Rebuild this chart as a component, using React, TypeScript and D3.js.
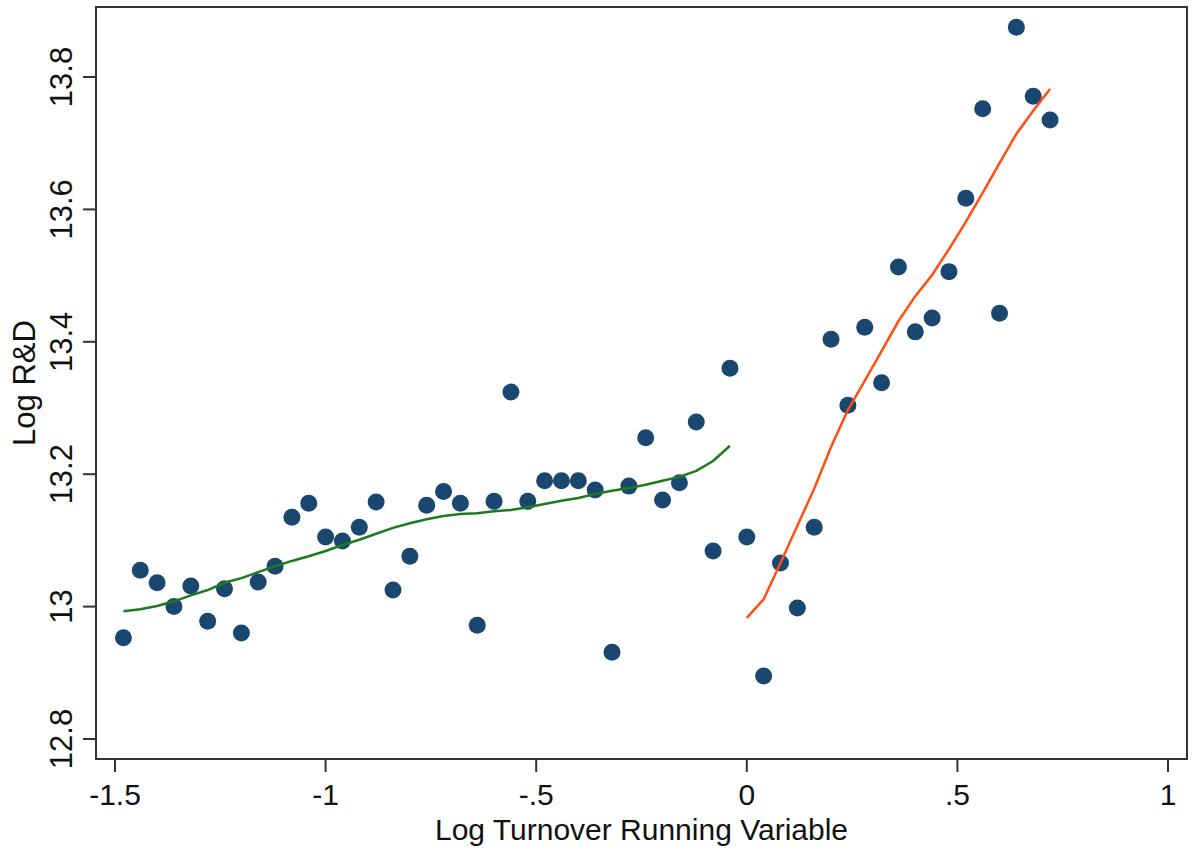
import React from 'react';
import * as d3 from 'd3';

// binned scatter (bin centres every .04)
const binX = [
  -1.48, -1.44, -1.4, -1.36, -1.32, -1.28, -1.24, -1.2, -1.16, -1.12, -1.08, -1.04, -1.0,
  -0.96, -0.92, -0.88, -0.84, -0.8, -0.76, -0.72, -0.68, -0.64, -0.6, -0.56, -0.52, -0.48,
  -0.44, -0.4, -0.36, -0.32, -0.28, -0.24, -0.2, -0.16, -0.12, -0.08, -0.04,
  0.0, 0.04, 0.08, 0.12, 0.16, 0.2, 0.24, 0.28, 0.32, 0.36, 0.4, 0.44, 0.48, 0.52, 0.56,
  0.6, 0.64, 0.68, 0.72,
];
const binY = [
  12.953, 13.055, 13.036, 13.0, 13.031, 12.978, 13.027, 12.96, 13.037, 13.061, 13.135,
  13.156, 13.105, 13.099, 13.12, 13.158, 13.025, 13.076, 13.153, 13.174, 13.156, 12.972,
  13.159, 13.324, 13.159, 13.19, 13.19, 13.19, 13.176, 12.931, 13.182, 13.255, 13.161,
  13.187, 13.279, 13.084, 13.36,
  13.105, 12.895, 13.066, 12.998, 13.12, 13.404, 13.304, 13.422, 13.338, 13.513, 13.415,
  13.436, 13.506, 13.617, 13.752, 13.443, 13.875, 13.771, 13.735,
];

// smoothed fit left of cutoff
const leftFitX = [
  -1.48, -1.44, -1.4, -1.36, -1.32, -1.28, -1.24, -1.2, -1.16, -1.12, -1.08, -1.04, -1.0,
  -0.96, -0.92, -0.88, -0.84, -0.8, -0.76, -0.72, -0.68, -0.64, -0.6, -0.56, -0.52, -0.48,
  -0.44, -0.4, -0.36, -0.32, -0.28, -0.24, -0.2, -0.16, -0.12, -0.08, -0.04,
];
const leftFitY = [
  12.993, 12.996, 13.001, 13.008, 13.017, 13.025, 13.036, 13.043, 13.052, 13.061, 13.069,
  13.076, 13.084, 13.093, 13.101, 13.11, 13.119, 13.126, 13.132, 13.137, 13.14, 13.141,
  13.144, 13.146, 13.15, 13.155, 13.16, 13.164, 13.17, 13.175, 13.179, 13.184, 13.19,
  13.196, 13.205, 13.22, 13.243,
];

// smoothed fit right of cutoff
const rightFitX = [
  0.0, 0.04, 0.08, 0.12, 0.16, 0.2, 0.24, 0.28, 0.32, 0.36, 0.4, 0.44, 0.48, 0.52, 0.56,
  0.6, 0.64, 0.68, 0.72,
];
const rightFitY = [
  12.983, 13.011, 13.066, 13.122, 13.178, 13.241, 13.297, 13.341, 13.386, 13.431, 13.469,
  13.501, 13.54, 13.581, 13.625, 13.67, 13.714, 13.749, 13.782,
];

const xTicks = [-1.5, -1, -0.5, 0, 0.5, 1];
const xTickLabels = ['-1.5', '-1', '-.5', '0', '.5', '1'];
const yTicks = [12.8, 13, 13.2, 13.4, 13.6, 13.8];
const yTickLabels = ['12.8', '13', '13.2', '13.4', '13.6', '13.8'];

const W = 1192;
const H = 850;
const left = 96;
const right = 1187;
const top = 7;
const bottom = 759;
const font = '"Liberation Sans", Arial, sans-serif';

export default function App() {
  const x = d3.scaleLinear().domain([-1.5, 1]).range([115, 1168]);
  const y = d3.scaleLinear().domain([12.8, 13.8]).range([739, 77]);

  const line = d3
    .line<[number, number]>()
    .x((d) => x(d[0]))
    .y((d) => y(d[1]));

  const leftPts = leftFitX.map((v, i) => [v, leftFitY[i]] as [number, number]);
  const rightPts = rightFitX.map((v, i) => [v, rightFitY[i]] as [number, number]);

  return (
    <div style={{ position: 'absolute', left: 0, top: 0 }}>
      <svg width={W} height={H} style={{ display: 'block', background: '#fff' }}>
        <rect x={left} y={top} width={right - left} height={bottom - top} fill="#fff" stroke="#333" strokeWidth={2} />

        {binX.map((v, i) => (
          <circle key={i} cx={x(v)} cy={y(binY[i])} r={8.5} fill="#1a476f" />
        ))}

        <path d={line(leftPts) || ''} fill="none" stroke="#1e7a1e" strokeWidth={2.5} />
        <path d={line(rightPts) || ''} fill="none" stroke="#ff4f12" strokeWidth={2.5} />

        {/* y axis */}
        {yTicks.map((t, i) => (
          <g key={t}>
            <line x1={left - 13} x2={left} y1={y(t)} y2={y(t)} stroke="#333" strokeWidth={2} />
            <text
              transform={`translate(72,${y(t)}) rotate(-90)`}
              textAnchor="middle"
              fontFamily={font}
              fontSize={31}
              fill="#111"
            >
              {yTickLabels[i]}
            </text>
          </g>
        ))}
        <text
          transform={`translate(35,${(top + bottom) / 2}) rotate(-90)`}
          textAnchor="middle"
          fontFamily={font}
          fontSize={31}
          fill="#111"
        >
          Log R&amp;D
        </text>

        {/* x axis */}
        {xTicks.map((t, i) => (
          <g key={t}>
            <line x1={x(t)} x2={x(t)} y1={bottom} y2={bottom + 13} stroke="#333" strokeWidth={2} />
            <text x={x(t)} y={805} textAnchor="middle" fontFamily={font} fontSize={30} fill="#111">
              {xTickLabels[i]}
            </text>
          </g>
        ))}
        <text x={(left + right) / 2} y={840} textAnchor="middle" fontFamily={font} fontSize={30} fill="#111">
          Log Turnover Running Variable
        </text>
      </svg>
    </div>
  );
}
